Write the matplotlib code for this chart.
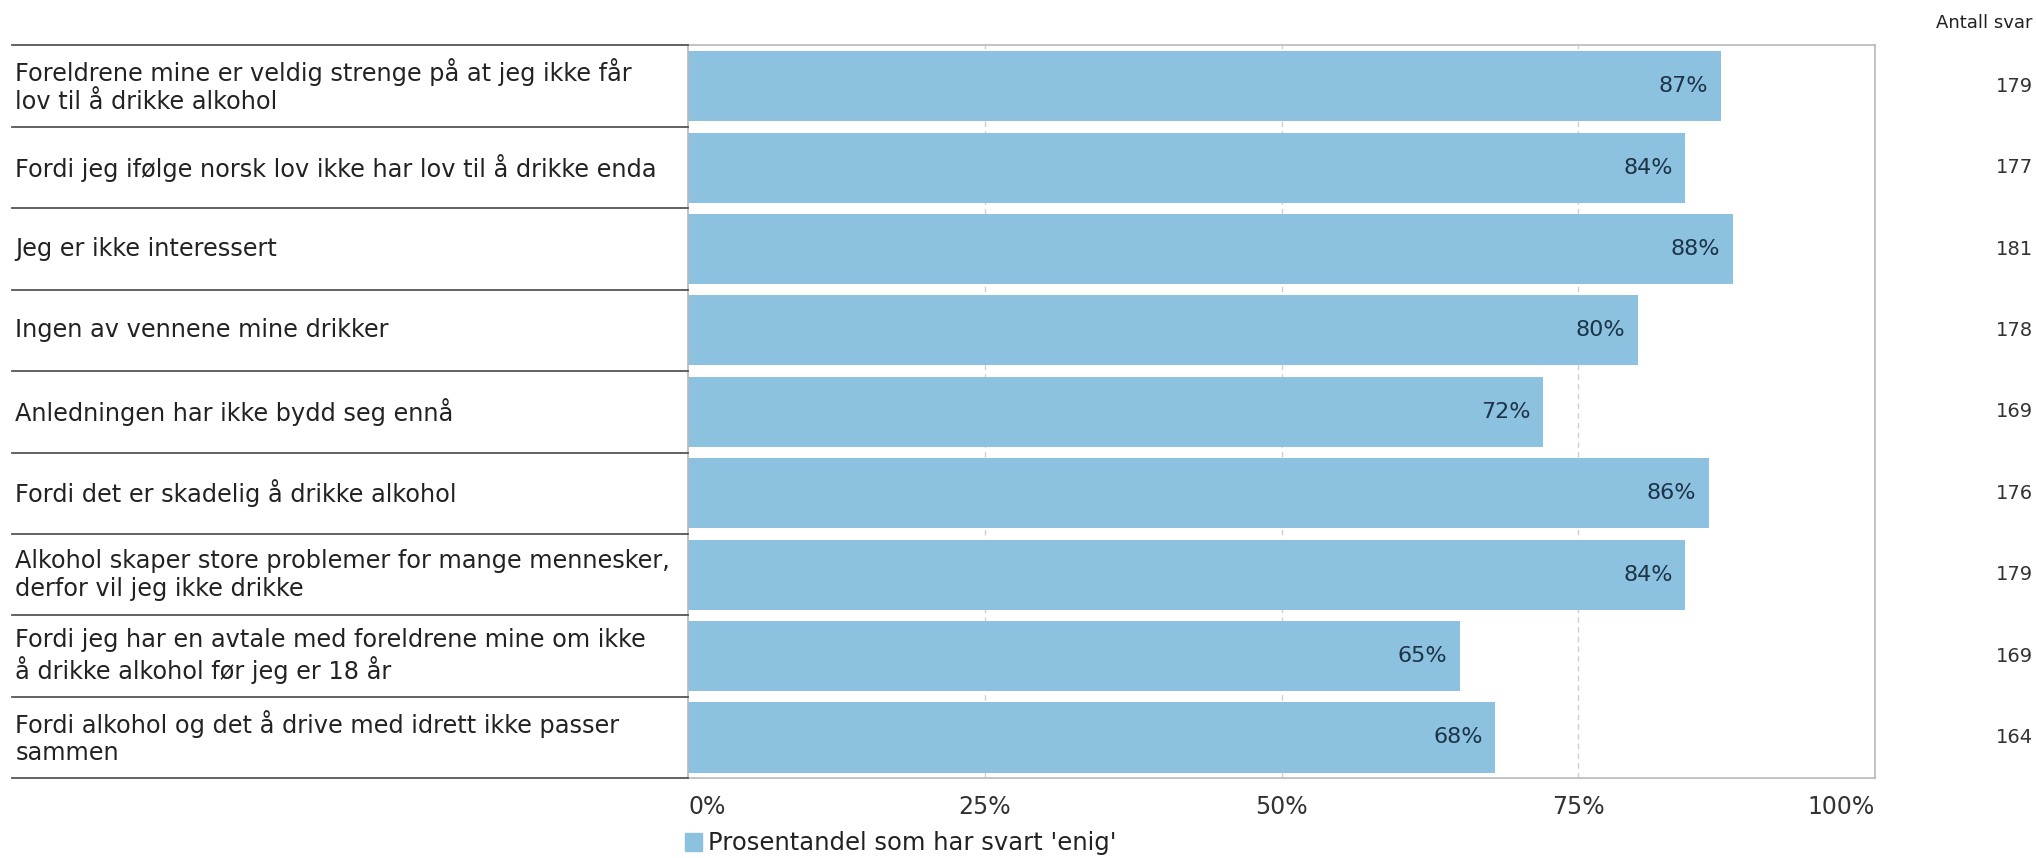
import matplotlib
matplotlib.use('Agg')
import matplotlib.pyplot as plt
import matplotlib.transforms as mtransforms

# data
labels = [
    'Foreldrene mine er veldig strenge på at jeg ikke får\nlov til å drikke alkohol',
    'Fordi jeg ifølge norsk lov ikke har lov til å drikke enda',
    'Jeg er ikke interessert',
    'Ingen av vennene mine drikker',
    'Anledningen har ikke bydd seg ennå',
    'Fordi det er skadelig å drikke alkohol',
    'Alkohol skaper store problemer for mange mennesker,\nderfor vil jeg ikke drikke',
    'Fordi jeg har en avtale med foreldrene mine om ikke\nå drikke alkohol før jeg er 18 år',
    'Fordi alkohol og det å drive med idrett ikke passer\nsammen',
]
pct = [87, 84, 88, 80, 72, 86, 84, 65, 68]
antall = [179, 177, 181, 178, 169, 176, 179, 169, 164]
xticks = [0, 25, 50, 75, 100]
xtick_labels = ['0%', '25%', '50%', '75%', '100%']
legend_label = "Prosentandel som har svart 'enig'"

bar_color = '#8cc2df'

fig = plt.figure(figsize=(20.36, 8.58), dpi=100)
ax = fig.add_axes([0.338, 0.093, 0.583, 0.854])

y = list(range(len(labels)))
ax.barh(y, pct, height=0.86, color=bar_color, zorder=2)
ax.set_xlim(0, 100)
ax.set_ylim(len(labels) - 0.5, -0.5)

for xv in xticks[1:-1]:
    ax.axvline(xv, color='#d0d0d0', lw=1, ls=(0, (4, 3)), zorder=1)

for sp in ax.spines.values():
    sp.set_color('#b8b8b8')
    sp.set_linewidth(1.2)

ax.set_yticks([])
ax.set_xticks(xticks)
ax.set_xticklabels(xtick_labels, fontsize=17, color='#333333')
ax.tick_params(axis='x', length=0, pad=12)
tl = ax.get_xticklabels()
tl[0].set_ha('left')
tl[-1].set_ha('right')

# percent labels inside bars
for yi, v in zip(y, pct):
    ax.annotate(f'{v}%', xy=(v, yi), xytext=(-9, 0), textcoords='offset points',
                ha='right', va='center', fontsize=16, color='#1c3348', zorder=3)

# category labels on the left, with separator lines
trans = mtransforms.blended_transform_factory(fig.transFigure, ax.transData)
for yi, lab in zip(y, labels):
    ax.text(0.0075, yi, lab, transform=trans, ha='left', va='center',
            fontsize=17.3, color='#222222', linespacing=1.2)
for b in range(len(labels) + 1):
    ax.plot([0.006, 0.338], [b - 0.5, b - 0.5], transform=trans, color='#555555',
            lw=1.3, clip_on=False, zorder=4)

# antall svar column
for yi, n in zip(y, antall):
    ax.text(0.9985, yi, str(n), transform=trans, ha='right', va='center',
            fontsize=14, color='#333333')
fig.text(0.9985, 0.973, 'Antall svar', ha='right', va='center', fontsize=13, color='#222222')

# legend
fig.patches.append(plt.Rectangle((0.3365, 0.008), 0.0085, 0.021, transform=fig.transFigure,
                                 color=bar_color, figure=fig))
fig.text(0.3475, 0.018, legend_label, ha='left', va='center', fontsize=17.5, color='#222222')

fig.savefig('out.png', dpi=100)
